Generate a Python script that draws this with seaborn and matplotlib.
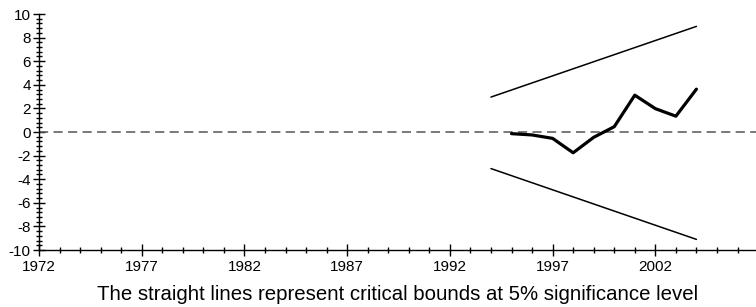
import matplotlib
matplotlib.use("Agg")
import matplotlib.pyplot as plt
from matplotlib.ticker import MultipleLocator
import seaborn as sns
import pandas as pd

sns.set_theme(style="white")
plt.rcParams['font.family'] = ['Liberation Sans', 'DejaVu Sans']
plt.rcParams['axes.unicode_minus'] = False

years = [1995, 1996, 1997, 1998, 1999, 2000, 2001, 2002, 2003, 2004]
cusum = [-0.14, -0.25, -0.54, -1.76, -0.45, 0.45, 3.12, 1.98, 1.34, 3.63]
bound_years = [1994, 2004]
upper_bound = [2.96, 8.95]
lower_bound = [-3.1, -9.1]
zero_years = [1972, 2007]
zero_line = [0, 0]
xtick_years = [1972, 1977, 1982, 1987, 1992, 1997, 2002]
caption = "The straight lines represent critical bounds at 5% significance level"

fig = plt.figure(figsize=(7.56, 3.07), dpi=100)
ax = fig.add_axes([39/756, 1-250/307, 1-39/756, (250-14)/307])

sns.lineplot(x=zero_years, y=zero_line, ax=ax, color="#555555", lw=1.1,
             linestyle=(0, (6, 3.5)))
sns.lineplot(x=bound_years, y=upper_bound, ax=ax, color="black", lw=1.1)
sns.lineplot(x=bound_years, y=lower_bound, ax=ax, color="black", lw=1.1)
sns.lineplot(x=years, y=cusum, ax=ax, color="black", lw=2.3)

ax.set_xlim(1972, 2006.9)
ax.set_ylim(-10, 10)
ax.set_xticks(xtick_years)
ax.set_xticklabels([str(y) for y in xtick_years])
ax.xaxis.set_minor_locator(MultipleLocator(1))
ax.set_yticks(range(-10, 11, 2))
ax.set_yticklabels([str(v) for v in range(-10, 11, 2)])
ax.yaxis.set_minor_locator(MultipleLocator(0.4))

for s in ["top", "right"]:
    ax.spines[s].set_visible(False)
for s in ["left", "bottom"]:
    ax.spines[s].set_color("black")
    ax.spines[s].set_linewidth(1.0)

ax.tick_params(axis="both", which="major", direction="inout", length=8,
               width=1, color="black", labelsize=11, labelcolor="black",
               bottom=True, left=True)
ax.tick_params(axis="both", which="minor", direction="inout", length=5,
               width=1, color="black", bottom=True, left=True)
ax.tick_params(axis="x", which="major", pad=3)
ax.tick_params(axis="y", which="major", pad=2)
ax.set_xlabel(caption, fontsize=14.7, labelpad=8, color="black")
ax.set_ylabel("")

fig.savefig("out.png", dpi=100)
